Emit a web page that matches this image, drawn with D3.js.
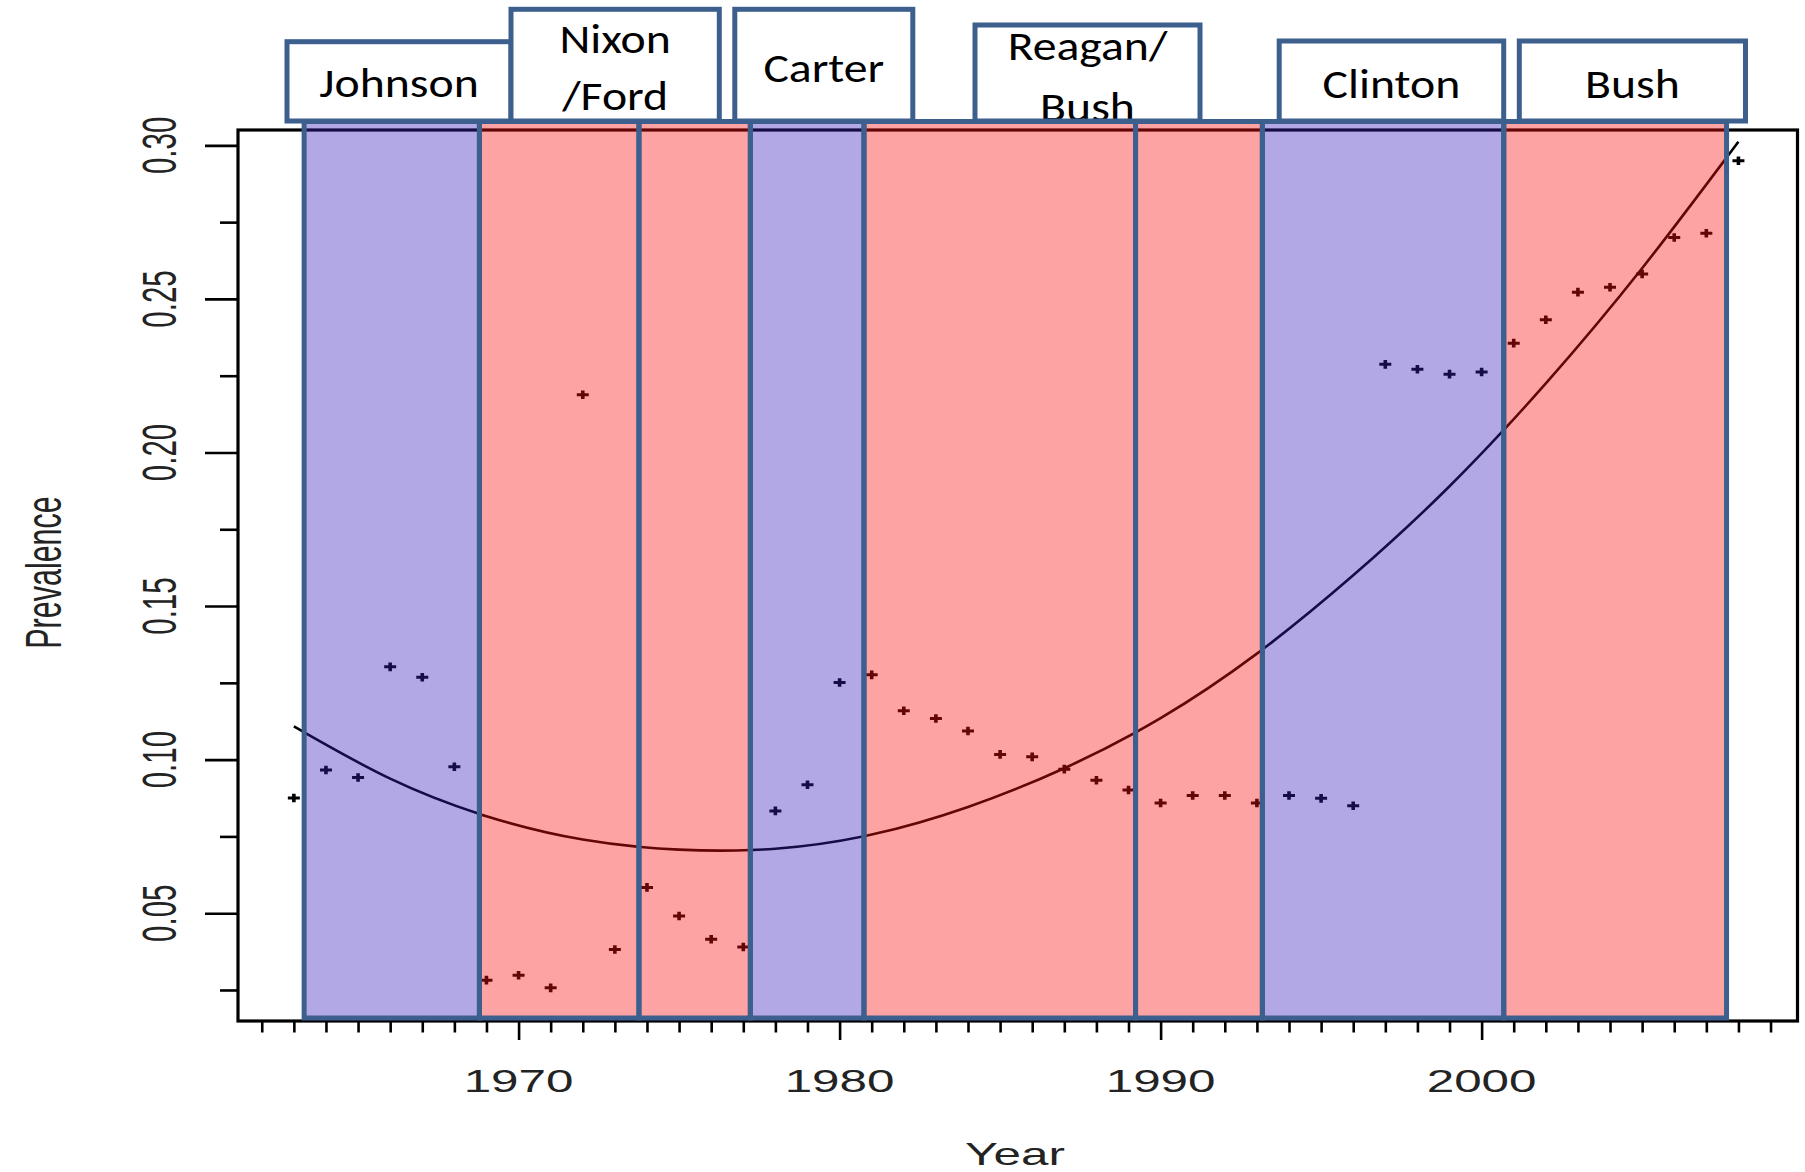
<!DOCTYPE html>
<html>
<head>
<meta charset="utf-8">
<script src="https://cdn.jsdelivr.net/npm/d3@7"></script>
<style>
  html, body { margin: 0; padding: 0; background: #fff; }
  svg { display: block; }
</style>
</head>
<body>
<svg id="chart" width="1805" height="1172"></svg>
<script>
// ---- data -------------------------------------------------------------
const years = [1963, 1964, 1965, 1966, 1967, 1968, 1969, 1970, 1971, 1972,
  1973, 1974, 1975, 1976, 1977, 1978, 1979, 1980, 1981, 1982,
  1983, 1984, 1985, 1986, 1987, 1988, 1989, 1990, 1991, 1992,
  1993, 1994, 1995, 1996, 1997, 1998, 1999, 2000, 2001, 2002,
  2003, 2004, 2005, 2006, 2007, 2008];

const prevalence = [0.0875, 0.0966, 0.0942, 0.1302, 0.1268, 0.0977, 0.0282, 0.0298, 0.0257, 0.2188,
  0.0382, 0.0584, 0.0491, 0.0415, 0.0390, 0.0833, 0.0918, 0.1251, 0.1276, 0.1159,
  0.1134, 0.1093, 0.1017, 0.1009, 0.0969, 0.0933, 0.0901, 0.0859, 0.0883, 0.0883,
  0.0859, 0.0883, 0.0874, 0.0850, 0.2287, 0.2271, 0.2255, 0.2262, 0.2356, 0.2432,
  0.2522, 0.2538, 0.2581, 0.2700, 0.2714, 0.2950];

// fitted trend, sampled every three years
const trendYears = [1963, 1966, 1969, 1972, 1975, 1978, 1981, 1984, 1987, 1990, 1993, 1996, 1999, 2002, 2005, 2008];
const trendValues = [0.1108, 0.0938, 0.0816, 0.0740, 0.0707, 0.0710, 0.0756, 0.0846, 0.0972, 0.1135, 0.1345, 0.1600, 0.1890, 0.2225, 0.2600, 0.3012];

// presidential terms (start / end in fractional years) and party
const termStart = [1963.32, 1968.78, 1973.75, 1977.22, 1980.76, 1989.22, 1993.17, 2000.69];
const termEnd   = [1968.78, 1973.75, 1977.22, 1980.76, 1989.22, 1993.17, 2000.69, 2007.63];
const termParty = ["D", "R", "R", "D", "R", "R", "D", "R"];

// administration captions (one entry per caption box, lines split by "\n")
const captions = ["Johnson", "Nixon\n/Ford", "Carter", "Reagan/\nBush", "Clinton", "Bush"];

const xMajorTicks = [1970, 1980, 1990, 2000];
const xMinorTicks = [1962, 1963, 1964, 1965, 1966, 1967, 1968, 1969, 1971, 1972, 1973, 1974, 1975,
  1976, 1977, 1978, 1979, 1981, 1982, 1983, 1984, 1985, 1986, 1987, 1988, 1989, 1991, 1992,
  1993, 1994, 1995, 1996, 1997, 1998, 1999, 2001, 2002, 2003, 2004, 2005, 2006, 2007, 2008, 2009];
const yMajorTicks = [0.05, 0.10, 0.15, 0.20, 0.25, 0.30];
const yMinorTicks = [0.025, 0.075, 0.125, 0.175, 0.225, 0.275];
const yTickLabels = ["0.05", "0.10", "0.15", "0.20", "0.25", "0.30"];

// ---- layout -----------------------------------------------------------
const plot = { left: 238, right: 1797.5, top: 130, bottom: 1021 };
const bandTop = 121.5, bandBottom = 1018;
const stretch = 1.62;               // horizontal stretch of the axis lettering
const capStretch = 1.15;            // horizontal stretch of the caption lettering

// caption box geometry: [x0, x1, yTop], text baselines per line
const captionBoxes = [
  { x0: 287,    x1: 511,    y0: 41.7, base: [97] },
  { x0: 511,    x1: 719.3,  y0: 9.3,  base: [53.3, 110] },
  { x0: 734.8,  x1: 912.8,  y0: 9.3,  base: [81.7] },
  { x0: 975,    x1: 1200,   y0: 25,   base: [60, 121] },
  { x0: 1279.2, x1: 1503.7, y0: 41,   base: [97.7] },
  { x0: 1519.3, x1: 1745.5, y0: 41,   base: [97.7] }
];
const captionBottom = 121;

const partyFill = { D: "#b3a8e6", R: "#fda3a3" };
const partyInk  = { D: "#160d47", R: "#650606" };
const borderColor = "#3c5f8d";

const x = d3.scaleLinear().domain([1961.26, 2009.84]).range([plot.left, plot.right]);
const y = d3.scaleLinear().domain([0.0149, 0.3050]).range([plot.bottom, plot.top]);

const svg = d3.select("#chart");

// ---- axes (ticks only; the frame is drawn with the data ink) ----------
const axisInk = "#000";
const labelInk = "#232323";
const axisFont = "'Liberation Sans', Arial, sans-serif";

const gx = svg.append("g");
gx.append("g")
  .attr("transform", `translate(0,${plot.bottom})`)
  .call(d3.axisBottom(x).tickValues(xMinorTicks).tickSize(11.5).tickFormat(""))
  .call(g => g.select(".domain").remove());
gx.append("g")
  .attr("transform", `translate(0,${plot.bottom})`)
  .call(d3.axisBottom(x).tickValues(xMajorTicks).tickSize(19).tickFormat(""))
  .call(g => g.select(".domain").remove());
gx.selectAll("line").attr("stroke", axisInk).attr("stroke-width", 2.6);

gx.selectAll("text.xlab")
  .data(xMajorTicks)
  .join("text")
  .attr("class", "xlab")
  .attr("transform", d => `translate(${x(d)},1092) scale(${stretch},1)`)
  .attr("text-anchor", "middle")
  .attr("font-family", axisFont)
  .attr("font-size", 30.5)
  .attr("fill", labelInk)
  .text(d => d);

const gy = svg.append("g");
gy.append("g")
  .attr("transform", `translate(${plot.left},0)`)
  .call(d3.axisLeft(y).tickValues(yMinorTicks).tickSize(18).tickFormat(""))
  .call(g => g.select(".domain").remove());
gy.append("g")
  .attr("transform", `translate(${plot.left},0)`)
  .call(d3.axisLeft(y).tickValues(yMajorTicks).tickSize(33).tickFormat(""))
  .call(g => g.select(".domain").remove());
gy.selectAll("line").attr("stroke", axisInk).attr("stroke-width", 2.6);

gy.selectAll("text.ylab")
  .data(yMajorTicks)
  .join("text")
  .attr("class", "ylab")
  .attr("transform", d => `translate(176,${y(d)}) scale(${stretch},1) rotate(-90)`)
  .attr("text-anchor", "middle")
  .attr("font-family", axisFont)
  .attr("font-size", 29.5)
  .attr("fill", labelInk)
  .text((d, i) => yTickLabels[i]);

svg.append("text")
  .attr("transform", `translate(1015,1165) scale(${stretch},1)`)
  .attr("text-anchor", "middle")
  .attr("font-family", axisFont)
  .attr("font-size", 30.5)
  .attr("fill", labelInk)
  .text("Year");

svg.append("text")
  .attr("transform", `translate(60.5,${(plot.top + plot.bottom) / 2 - 3}) scale(${stretch},1) rotate(-90)`)
  .attr("text-anchor", "middle")
  .attr("font-family", axisFont)
  .attr("font-size", 30.5)
  .attr("fill", labelInk)
  .text("Prevalence");

// ---- data ink: frame, trend curve and point markers -------------------
const points = years.map((yr, i) => ({ year: yr, value: prevalence[i] }));
const trend = trendYears.map((yr, i) => ({ year: yr, value: trendValues[i] }));
const trendLine = d3.line().x(d => x(d.year)).y(d => y(d.value)).curve(d3.curveNatural);
const plusPath = "M-6,-1.5h12v3h-12z M-1.8,-4.3h3.6v8.6h-3.6z";

function drawInk(g, color) {
  g.append("rect")
    .attr("x", plot.left).attr("y", plot.top)
    .attr("width", plot.right - plot.left).attr("height", plot.bottom - plot.top)
    .attr("fill", "none").attr("stroke", color).attr("stroke-width", 3.2);
  g.append("path")
    .datum(trend)
    .attr("d", trendLine)
    .attr("fill", "none")
    .attr("stroke", color)
    .attr("stroke-width", 2.6);
  g.selectAll("path.pt")
    .data(points)
    .join("path")
    .attr("class", "pt")
    .attr("transform", d => `translate(${x(d.year)},${y(d.value)})`)
    .attr("d", plusPath)
    .attr("fill", color);
}

// plain black ink everywhere first
drawInk(svg.append("g"), "#000");

// ---- presidential terms as shaded bands --------------------------------
const terms = termStart.map((s, i) => ({ s, e: termEnd[i], party: termParty[i], id: i }));

svg.append("g").selectAll("rect")
  .data(terms)
  .join("rect")
  .attr("x", d => x(d.s)).attr("y", bandTop)
  .attr("width", d => x(d.e) - x(d.s)).attr("height", bandBottom - bandTop)
  .attr("fill", d => partyFill[d.party]);

// ink seen through each band takes on the band's dark tint
const defs = svg.append("defs");
terms.forEach(t => {
  defs.append("clipPath").attr("id", `band-clip-${t.id}`)
    .append("rect")
    .attr("x", x(t.s)).attr("y", bandTop)
    .attr("width", x(t.e) - x(t.s)).attr("height", bandBottom - bandTop);
  const g = svg.append("g").attr("clip-path", `url(#band-clip-${t.id})`);
  drawInk(g, partyInk[t.party]);
});

svg.append("g").selectAll("rect")
  .data(terms)
  .join("rect")
  .attr("x", d => x(d.s)).attr("y", bandTop)
  .attr("width", d => x(d.e) - x(d.s)).attr("height", bandBottom - bandTop)
  .attr("fill", "none")
  .attr("stroke", borderColor)
  .attr("stroke-width", 5);

// ---- administration captions ------------------------------------------
const capFont = "Carlito, Calibri, Lato, 'Open Sans', sans-serif";
const cap = svg.append("g").selectAll("g")
  .data(captions.map((c, i) => ({ lines: c.split("\n"), box: captionBoxes[i] })))
  .join("g");

cap.append("rect")
  .attr("x", d => d.box.x0).attr("y", d => d.box.y0)
  .attr("width", d => d.box.x1 - d.box.x0).attr("height", d => captionBottom - d.box.y0)
  .attr("fill", "#fff");

cap.each(function (d) {
  const g = d3.select(this);
  d.lines.forEach((line, j) => {
    g.append("text")
      .attr("transform", `translate(${(d.box.x0 + d.box.x1) / 2},${d.box.base[j]}) scale(${capStretch},1)`)
      .attr("text-anchor", "middle")
      .attr("font-family", capFont)
      .attr("font-size", 41.5)
      .attr("fill", "#000")
      .text(line);
  });
});

cap.append("rect")
  .attr("x", d => d.box.x0).attr("y", d => d.box.y0)
  .attr("width", d => d.box.x1 - d.box.x0).attr("height", d => captionBottom - d.box.y0)
  .attr("fill", "none")
  .attr("stroke", borderColor)
  .attr("stroke-width", 5);
</script>
</body>
</html>
